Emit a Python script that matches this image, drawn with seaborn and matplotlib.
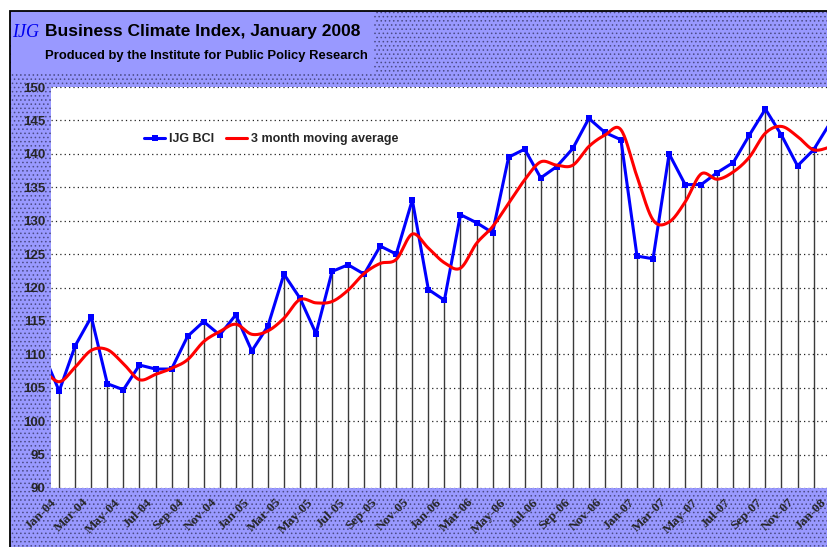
import numpy as np
import pandas as pd
import matplotlib
matplotlib.use('Agg')
from matplotlib import pyplot as plt
from matplotlib.patches import Rectangle
import seaborn as sns

# Dec-03 .. Jan-08
months = pd.date_range('2003-12-01', periods=50, freq='MS')
bci = [110.2,
       104.5, 111.3, 115.6, 105.6, 104.7, 108.4, 107.8, 107.8, 112.7, 114.9, 112.9, 115.9,
       110.5, 114.2, 122.0, 118.4, 113.1, 122.4, 123.4, 122.0, 126.2, 125.0, 133.1, 119.7,
       118.1, 130.9, 129.7, 128.2, 139.5, 140.7, 136.4, 138.1, 140.8, 145.3, 143.2, 142.1,
       124.7, 124.3, 140.0, 135.4, 135.4, 137.2, 138.7, 142.8, 146.7, 142.8, 138.2, 140.6,
       144.5]
moving_avg = [107.8,
              105.9, 108.1, 110.6, 110.7, 108.6, 106.2, 107.0, 107.9, 109.2, 111.9, 113.4, 114.5,
              113.0, 113.5, 115.4, 118.2, 117.7, 117.9, 119.6, 122.1, 123.6, 124.2, 128.0, 125.9,
              123.7, 122.9, 126.6, 129.1, 132.6, 136.1, 138.8, 138.3, 138.3, 141.1, 142.8, 143.6,
              136.6, 130.1, 129.8, 132.8, 137.0, 136.2, 137.3, 139.5, 143.1, 144.1, 142.6, 140.6,
              141.0]
tick_labels = ['Jan-04', 'Mar-04', 'May-04', 'Jul-04', 'Sep-04', 'Nov-04',
               'Jan-05', 'Mar-05', 'May-05', 'Jul-05', 'Sep-05', 'Nov-05',
               'Jan-06', 'Mar-06', 'May-06', 'Jul-06', 'Sep-06', 'Nov-06',
               'Jan-07', 'Mar-07', 'May-07', 'Jul-07', 'Sep-07', 'Nov-07', 'Jan-08']
y_ticks = [90, 95, 100, 105, 110, 115, 120, 125, 130, 135, 140, 145, 150]

W, H = 828, 547
LAV = '#9999ff'


def px(x, y):
    return x / W, 1 - y / H


def smooth(xs, ys, n=20):
    # Excel-style smoothed line (Catmull-Rom)
    p = np.column_stack([xs, ys]).astype(float)
    p = np.vstack([p[0], p, p[-1]])
    out = []
    t = np.linspace(0, 1, n, endpoint=False)[:, None]
    for i in range(1, len(p) - 2):
        p0, p1, p2, p3 = p[i - 1], p[i], p[i + 1], p[i + 2]
        seg = 0.5 * ((2 * p1) + (-p0 + p2) * t + (2 * p0 - 5 * p1 + 4 * p2 - p3) * t ** 2
                     + (-p0 + 3 * p1 - 3 * p2 + p3) * t ** 3)
        out.append(seg)
    out.append(p[-2][None, :])
    out = np.vstack(out)
    return out[:, 0], out[:, 1]


def execute():
    sns.set_theme(style='white')
    plt.rcParams['font.family'] = ['Liberation Sans', 'DejaVu Sans']
    plt.rcParams['hatch.linewidth'] = 0.6

    data = pd.DataFrame({'month': months, 'bci': bci, 'avg': moving_avg})
    data['x'] = np.arange(len(data)) - 1

    fig = plt.figure(figsize=(W / 100, H / 100), dpi=100, facecolor='white')

    # lavender dotted frame + plain title box
    fig.patches.append(Rectangle(px(10, 600), 1.0, (600 - 11) / H, transform=fig.transFigure,
                                 facecolor=LAV, edgecolor='#4b4b86', hatch='....',
                                 linewidth=0, zorder=0))
    fig.patches.append(Rectangle(px(10, 600), 1.0, (600 - 11) / H, transform=fig.transFigure,
                                 facecolor='none', edgecolor='black', linewidth=1.3, zorder=0.5))
    fig.patches.append(Rectangle(px(10.6, 72), 363 / W, 60.4 / H, transform=fig.transFigure,
                                 facecolor=LAV, edgecolor='none', zorder=0.6))

    ax = fig.add_axes([50.7 / W, 59 / H, 49.13 * 16.05 / W, 401 / H])
    ax.set_zorder(2)
    ax.set_facecolor('white')

    for yv in y_ticks:
        ax.axhline(yv, color='#222222', lw=0.9, ls=(0, (1, 2.5)), zorder=1)
    ax.vlines(data['x'], 90, data['bci'], color='#3a3a3a', lw=1.0, zorder=2)

    sns.lineplot(x='x', y='bci', data=data, ax=ax, color='#0000ff', lw=2.2,
                 marker='s', markersize=4.5, markeredgewidth=0, label='IJG BCI', zorder=3)
    sx, sy = smooth(data['x'], data['avg'])
    sns.lineplot(x=sx, y=sy, ax=ax, color='#ff0000', lw=2.2, sort=False,
                 label='3 month moving average', zorder=4)

    ax.set_xlim(-0.53, 48.6)
    ax.set_ylim(90, 150)
    ax.set_yticks(y_ticks)
    ax.set_yticklabels([str(v) for v in y_ticks], fontsize=9.5, fontweight='bold')
    # labels sit slightly left of their month (ticks themselves are hidden)
    ax.set_xticks(np.arange(0, 49, 2) - 0.3)
    ax.set_xticklabels(tick_labels, rotation=45, ha='right', va='center',
                       rotation_mode='anchor', fontsize=9.5, fontweight='bold',
                       family=['Liberation Serif', 'DejaVu Serif'])
    ax.tick_params(axis='both', length=0)
    ax.tick_params(axis='y', pad=4)
    ax.tick_params(axis='x', pad=9)
    for s in ax.spines.values():
        s.set_visible(False)
    ax.set_xlabel('')
    ax.set_ylabel('')

    ax.legend(loc='center left', bbox_to_anchor=px(138, 139), bbox_transform=fig.transFigure,
              ncol=2, frameon=False, borderpad=0, handlelength=1.7, handletextpad=0.3,
              columnspacing=0.9, prop={'weight': 'bold', 'size': 9})

    fig.text(*px(12, 37), 'IJG', color='#0000ee', fontsize=13, style='italic',
             family=['Liberation Serif', 'DejaVu Serif'])
    fig.text(*px(45, 36), 'Business Climate Index, January 2008', fontsize=12.5,
             fontweight='bold', color='black')
    fig.text(*px(45, 59), 'Produced by the Institute for Public Policy Research', fontsize=9.4,
             fontweight='bold', color='black')

    fig.savefig('out.png', dpi=100, facecolor='white')


if __name__ == '__main__':
    execute()
